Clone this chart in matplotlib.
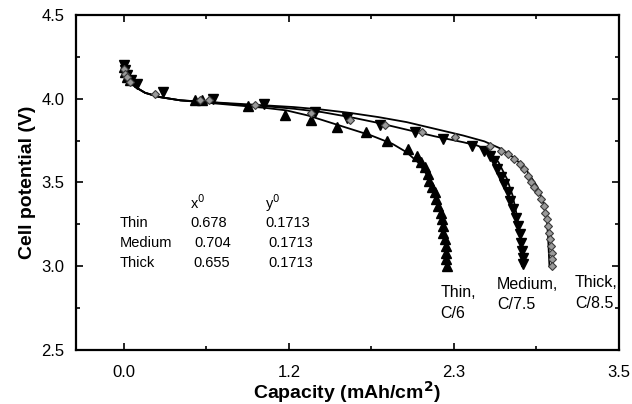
import numpy as np
import matplotlib.pyplot as plt
from matplotlib.ticker import FixedLocator, FormatStrFormatter

plt.rcParams['font.family'] = ['Liberation Sans', 'DejaVu Sans']

# measured discharge data (capacity in mAh/cm2, potential in V)
thin_x = [0.0, 0.01, 0.02, 0.04, 0.50, 0.55, 0.88, 1.14, 1.32, 1.51, 1.71, 1.86, 2.01,
          2.07, 2.10, 2.13, 2.15, 2.16, 2.18, 2.20, 2.21, 2.22, 2.24, 2.25, 2.255,
          2.26, 2.27, 2.275, 2.28, 2.28, 2.285]
thin_y = [4.19, 4.16, 4.13, 4.11, 3.99, 3.995, 3.955, 3.90, 3.87, 3.83, 3.80, 3.75, 3.70,
          3.66, 3.62, 3.59, 3.55, 3.51, 3.47, 3.44, 3.40, 3.36, 3.32, 3.28, 3.24,
          3.20, 3.16, 3.12, 3.08, 3.04, 3.00]

medium_x = [0.0, 0.01, 0.02, 0.05, 0.09, 0.28, 0.63, 0.99, 1.35, 1.58, 1.81, 2.06, 2.26,
            2.46, 2.55, 2.59, 2.62, 2.64, 2.67, 2.69, 2.72, 2.73, 2.75, 2.77, 2.79,
            2.80, 2.81, 2.815, 2.82, 2.82]
medium_y = [4.20, 4.17, 4.14, 4.11, 4.09, 4.04, 4.00, 3.97, 3.92, 3.885, 3.84, 3.80, 3.76,
            3.72, 3.69, 3.66, 3.63, 3.58, 3.53, 3.49, 3.44, 3.39, 3.34, 3.29, 3.24,
            3.19, 3.14, 3.09, 3.05, 3.01]

thick_x = [0.0, 0.01, 0.02, 0.04, 0.22, 0.54, 0.60, 0.93, 1.32, 1.60, 1.85, 2.11, 2.34,
           2.59, 2.67, 2.72, 2.76, 2.80, 2.83, 2.86, 2.88, 2.90, 2.93, 2.95, 2.97,
           2.98, 2.99, 3.00, 3.01, 3.015, 3.02, 3.025, 3.03, 3.03]
thick_y = [4.18, 4.15, 4.13, 4.10, 4.03, 3.995, 3.99, 3.96, 3.915, 3.875, 3.84, 3.80, 3.77,
           3.72, 3.69, 3.67, 3.64, 3.61, 3.58, 3.54, 3.50, 3.47, 3.44, 3.40, 3.36,
           3.32, 3.28, 3.24, 3.20, 3.16, 3.12, 3.08, 3.04, 3.00]

# model curves
thin_mx = [0.0, 0.03, 0.08, 0.15, 0.25, 0.4, 0.6, 0.8, 1.0, 1.15, 1.3, 1.45, 1.6, 1.75,
           1.9, 2.0, 2.08, 2.14, 2.19, 2.23, 2.26, 2.28, 2.29]
thin_my = [4.19, 4.12, 4.07, 4.035, 4.01, 3.99, 3.975, 3.96, 3.945, 3.93, 3.90, 3.86, 3.82,
           3.78, 3.73, 3.68, 3.62, 3.55, 3.46, 3.36, 3.22, 3.10, 3.00]
medium_mx = [0.0, 0.03, 0.08, 0.15, 0.25, 0.4, 0.6, 0.8, 1.0, 1.2, 1.4, 1.6, 1.8, 2.0,
             2.2, 2.4, 2.5, 2.58, 2.65, 2.71, 2.75, 2.78, 2.80, 2.81, 2.815]
medium_my = [4.19, 4.12, 4.07, 4.035, 4.01, 3.99, 3.98, 3.965, 3.955, 3.94, 3.92, 3.89,
             3.855, 3.815, 3.775, 3.74, 3.72, 3.69, 3.62, 3.52, 3.42, 3.30, 3.18, 3.07, 3.00]
thick_mx = [0.0, 0.03, 0.08, 0.15, 0.25, 0.4, 0.6, 0.8, 1.0, 1.2, 1.4, 1.6, 1.8, 2.0,
            2.2, 2.4, 2.55, 2.67, 2.77, 2.85, 2.92, 2.96, 2.99, 3.00, 3.01]
thick_my = [4.19, 4.12, 4.07, 4.035, 4.01, 3.99, 3.98, 3.97, 3.96, 3.95, 3.935, 3.915,
            3.89, 3.86, 3.82, 3.78, 3.745, 3.70, 3.64, 3.57, 3.48, 3.40, 3.30, 3.18, 3.00]

names = ['Thin', 'Medium', 'Thick']
x0_vals = ['0.678', '0.704', '0.655']
y0_vals = ['0.1713', '0.1713', '0.1713']
rates = ['C/6', 'C/7.5', 'C/8.5']

fig = plt.figure(figsize=(6.32, 4.04), dpi=100)
ax = fig.add_axes([0.120, 0.134, 0.859, 0.829])

ax.plot(thin_mx, thin_my, color='black', lw=1.3, zorder=2)
ax.plot(medium_mx, medium_my, color='black', lw=1.3, zorder=2)
ax.plot(thick_mx, thick_my, color='black', lw=1.3, zorder=2)

ax.plot(thin_x, thin_y, ls='none', marker='^', ms=6.5, color='black', zorder=3)
ax.plot(medium_x, medium_y, ls='none', marker='v', ms=6.5, color='black', zorder=3)
ax.plot(thick_x, thick_y, ls='none', marker='D', ms=4.5, mfc='#9a9a9a', mec='#3a3a3a',
        mew=0.8, zorder=3)

ax.set_xlim(-0.34, 3.5)
ax.set_ylim(2.5, 4.5)

ax.xaxis.set_major_locator(FixedLocator([0.0, 7 / 6, 7 / 3, 3.5]))
ax.xaxis.set_minor_locator(FixedLocator([7 / 12, 7 / 4, 35 / 12]))
ax.xaxis.set_major_formatter(FormatStrFormatter('%.1f'))
ax.yaxis.set_major_locator(FixedLocator([2.5, 3.0, 3.5, 4.0, 4.5]))
ax.yaxis.set_minor_locator(FixedLocator([2.75, 3.25, 3.75, 4.25]))
ax.yaxis.set_major_formatter(FormatStrFormatter('%.1f'))

ax.tick_params(which='both', direction='in', top=True, right=True, width=1.2)
ax.tick_params(which='major', length=5)
ax.tick_params(which='minor', length=3)
ax.tick_params(axis='x', which='major', pad=11, labelsize=12)
ax.tick_params(axis='y', which='major', pad=8, labelsize=12)
for s in ax.spines.values():
    s.set_linewidth(1.6)

ax.set_xlabel('Capacity (mAh/cm$^\\mathbf{2}$)', fontsize=14, fontweight='bold', labelpad=-1)
ax.set_ylabel('Cell potential (V)', fontsize=14, fontweight='bold', labelpad=4)

# parameter table
ax.text(0.47, 3.378, 'x$^0$', fontsize=10.5, va='center', ha='left')
ax.text(1.0, 3.378, 'y$^0$', fontsize=10.5, va='center', ha='left')
row_y = [3.258, 3.139, 3.019]
x0_pos = [0.47, 0.50, 0.49]
y0_pos = [1.0, 1.02, 1.02]
for n, a, b, yy, xa, xb in zip(names, x0_vals, y0_vals, row_y, x0_pos, y0_pos):
    ax.text(-0.03, yy, n, fontsize=10.5, va='center', ha='left')
    ax.text(xa, yy, a, fontsize=10.5, va='center', ha='left')
    ax.text(xb, yy, b, fontsize=10.5, va='center', ha='left')

# curve labels
lab_pos = [(2.24, 2.78), (2.64, 2.83), (3.19, 2.84)]
for n, r, (lx, ly) in zip(names, rates, lab_pos):
    ax.text(lx, ly, n + ',\n' + r, fontsize=11.5, va='center', ha='left', linespacing=1.45)

fig.savefig('out.png', dpi=100)
